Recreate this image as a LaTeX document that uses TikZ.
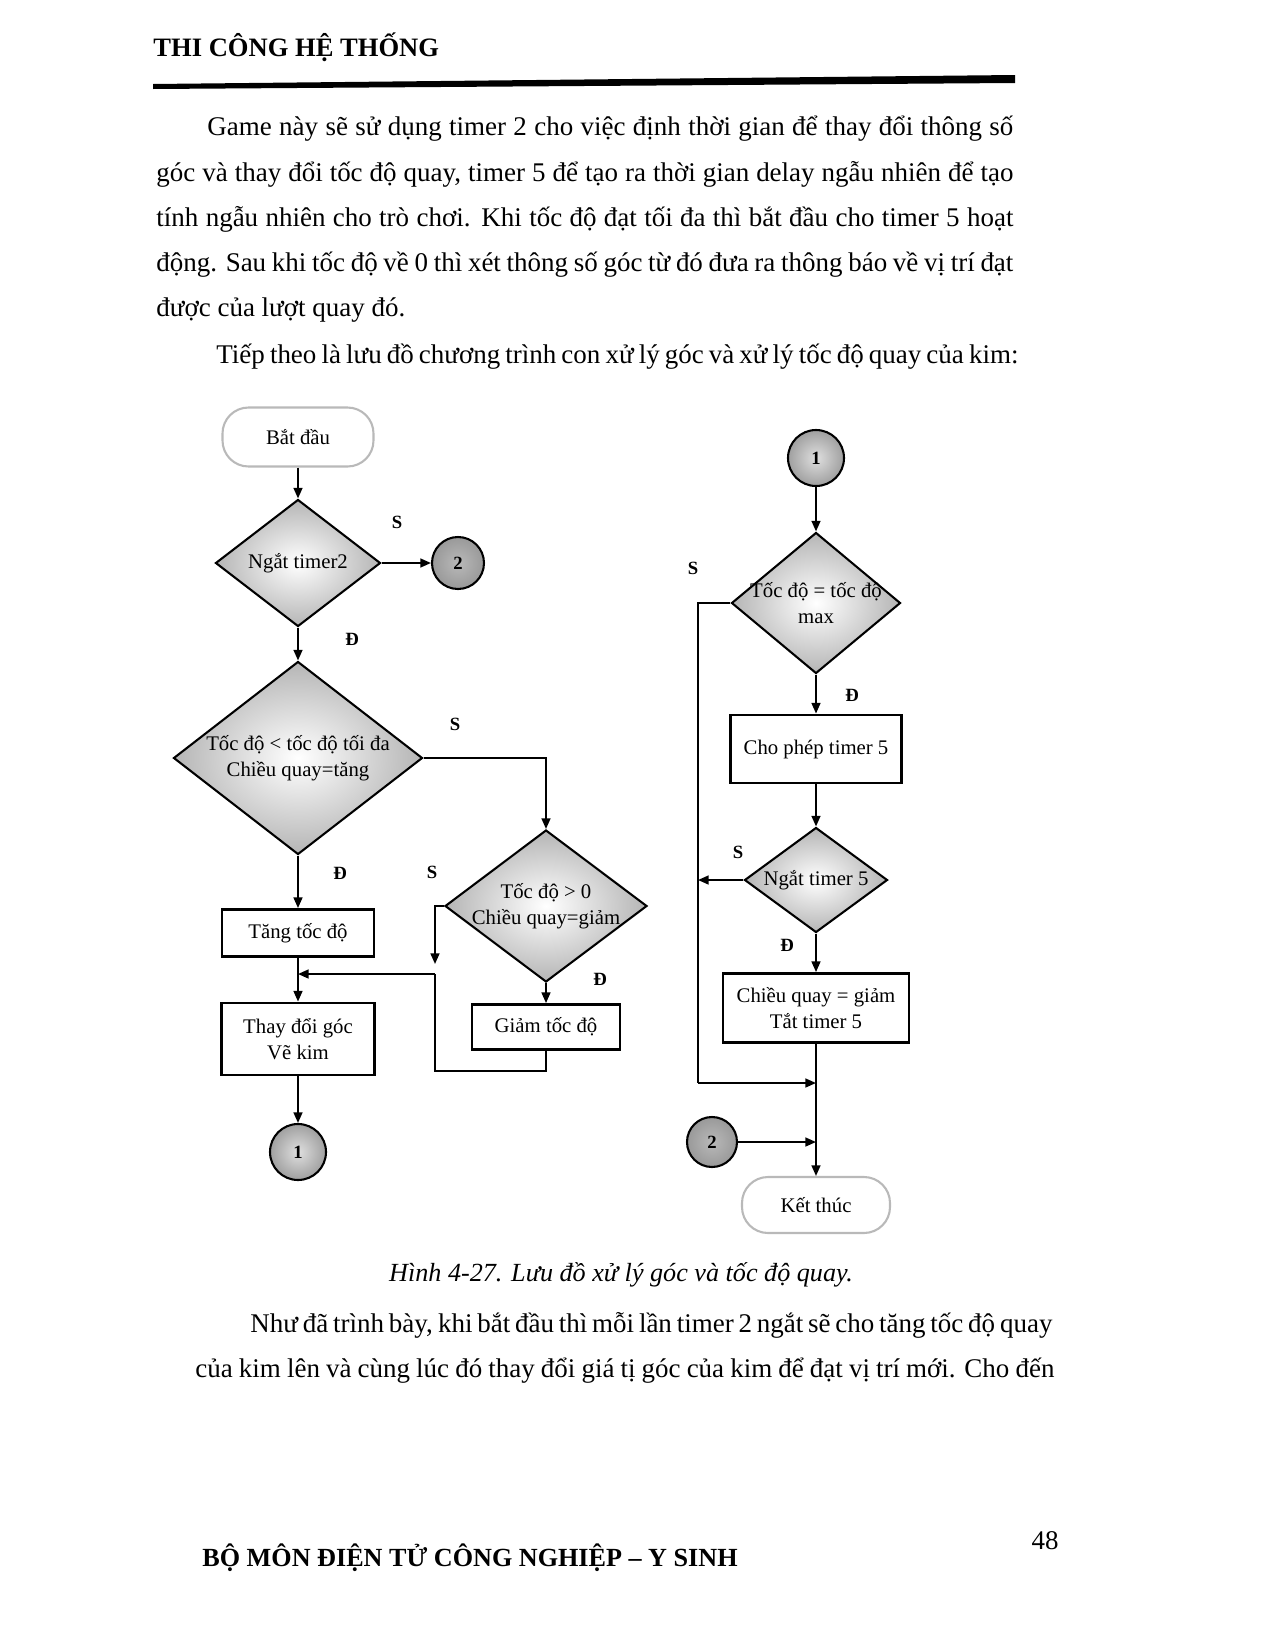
\documentclass[tikz,border=0pt]{standalone}
\usepackage{fontspec}
\setmainfont{Liberation Serif}
\usetikzlibrary{arrows.meta,shapes.geometric,calc}
\newlength\pxl
\setlength\pxl{0.16933mm}
\newcommand{\dl}[1]{\makebox[0pt]{#1}}
\newcommand{\jline}[2]{\makebox[#1\pxl][s]{#2}}

\tikzset{
  sz/.style 2 args={minimum width=#1*\pxl, minimum height=#2*\pxl},
  chartfont/.style={font=\fontsize{10}{12.5}\selectfont},
  terminal/.style={rectangle, draw=gray!55, line width=1pt, rounded corners=26*\pxl, chartfont},
  decision/.style={diamond, draw, line width=1pt, inner sep=0pt, shading=radial,
                   inner color=white, outer color=gray!58, align=center, chartfont},
  process/.style={rectangle, draw, line width=1.4pt, fill=white, align=center, chartfont},
  connector/.style={circle, draw, line width=1pt, inner sep=0pt, shading=radial,
                    inner color=gray!25, outer color=gray!75, font=\bfseries\small},
  connectordark/.style={connector, inner color=gray!55, outer color=gray!80},
  flow/.style={line width=0.9pt, -{Triangle[length=1.8mm,width=1.5mm]}},
  wire/.style={line width=0.9pt},
  yn/.style={font=\bfseries\fontsize{9}{10}\selectfont, inner sep=0pt},
  bodyline/.style={anchor=mid west, inner sep=0pt, font=\fontsize{13}{16}\selectfont},
}

\begin{document}
\begin{tikzpicture}[x=\pxl, y=-\pxl]
\useasboundingbox[fill=white] (0,0) rectangle (1275,1650);

\node[anchor=mid west, inner sep=0pt, font=\bfseries\fontsize{12.8}{15}\selectfont] (head) at (153,52) {THI CÔNG HỆ THỐNG};
\fill (153,84) -- (1015,75) -- (1015,83) -- (153,89) -- cycle;

\node[bodyline] (p1) at (207,131) {\jline{806}{Game này sẽ sử dụng timer 2 cho việc định thời gian để thay đổi thông số}};
\node[bodyline] (p2) at (156,177) {\jline{857}{góc và thay đổi tốc độ quay, timer 5 để tạo ra thời gian delay ngẫu nhiên để tạo}};
\node[bodyline] (p3) at (156,222) {\jline{857}{tính ngẫu nhiên cho trò chơi. Khi tốc độ đạt tối đa thì bắt đầu cho timer 5 hoạt}};
\node[bodyline] (p4) at (156,267) {\jline{857}{động. Sau khi tốc độ về 0 thì xét thông số góc từ đó đưa ra thông báo về vị trí đạt}};
\node[bodyline] (p5) at (156,312) {được của lượt quay đó.};
\node[bodyline] (p6) at (216,359) {\jline{802}{Tiếp theo là lưu đồ chương trình con xử lý góc và xử lý tốc độ quay của kim:}};

\node[terminal, sz={151}{59}] (start) at (298,437) {Bắt đầu};
\node[decision, sz={165}{127}] (tmr2) at (298,563) {\dl{Ngắt timer2}};
\node[connectordark, minimum size=52*\pxl] (jmp2) at (458,563) {2};
\node[decision, sz={249}{193}] (spdup) at (298,758) {\dl{Tốc độ < tốc độ tối đa}\\\dl{Chiều quay=tăng}};
\node[decision, sz={202}{152}] (spddn) at (546,906) {\dl{Tốc độ > 0}\\\dl{Chiều quay=giảm}};
\node[process, sz={152}{47}] (inc) at (298,933) {Tăng tốc độ};
\node[process, sz={153}{72}] (ang) at (298,1039) {Thay đổi góc\\Vẽ kim};
\node[process, sz={148}{45}] (dec) at (546,1027) {Giảm tốc độ};
\node[connector, minimum size=56*\pxl] (jmp1) at (298,1152) {1};

\node[connector, minimum size=56*\pxl] (ent1) at (816,458) {1};
\node[decision, sz={169}{141}] (ismax) at (816,603) {\dl{Tốc độ = tốc độ}\\\dl{max}};
\node[process, sz={171}{68}] (en5) at (816,749) {Cho phép timer 5};
\node[decision, sz={143}{105}] (tmr5) at (816,880) {\dl{Ngắt timer 5}};
\node[process, sz={186}{69}] (off5) at (816,1008) {Chiều quay = giảm\\Tắt timer 5};
\node[connectordark, minimum size=50*\pxl] (ent2) at (712,1142) {2};
\node[terminal, sz={148}{56}] (stop) at (816,1205) {Kết thúc};

\coordinate (jn) at (298,974);
\coordinate (lpx) at (435,974);
\coordinate (rlx) at (698,1083);
\coordinate (rm) at (816,1083);
\coordinate (rm2) at (816,1142);

\draw[flow] (start) -- (tmr2);
\draw[flow] (tmr2) -- (jmp2);
\draw[flow] (tmr2) -- (spdup);
\draw[flow] (spdup.east) -| (spddn.north);
\draw[flow] (spdup) -- (inc);
\draw[wire] (inc.south) -- (jn);
\draw[flow] (jn) -- (ang.north);
\draw[flow] (spddn.west) -- (spddn.west -| lpx) -- ($(lpx)+(0,-10)$);
\draw[wire] (dec.south) -- ++(0,20) -| (lpx);
\draw[flow] (lpx) -- (jn);
\draw[flow] (spddn) -- (dec);
\draw[flow] (ang) -- (jmp1);

\draw[flow] (ent1) -- (ismax);
\draw[flow] (ismax) -- (en5);
\draw[flow] (en5) -- (tmr5);
\draw[flow] (tmr5) -- (off5);
\draw[wire] (ismax.west) -| (rlx);
\draw[flow] (rlx) -- (rm);
\draw[flow] (tmr5.west) -- (tmr5.west -| rlx);
\draw[flow] (ent2) -- (rm2);
\draw[flow] (off5) -- (stop);

\node[yn] (s1) at (397,522) {S};
\node[yn] (d1) at (352,639) {Đ};
\node[yn] (s2) at (455,724) {S};
\node[yn] (d2) at (340,873) {Đ};
\node[yn] (s3) at (432,872) {S};
\node[yn] (d3) at (600,979) {Đ};
\node[yn] (s4) at (693,568) {S};
\node[yn] (d4) at (852,695) {Đ};
\node[yn] (s5) at (738,852) {S};
\node[yn] (d5) at (787,945) {Đ};

\node[font=\itshape\fontsize{12.6}{15}\selectfont, inner sep=0pt] (cap) at (621,1275) {Hình 4-27. Lưu đồ xử lý góc và tốc độ quay.};
\node[bodyline] (q1) at (250,1328) {\jline{802}{Như đã trình bày, khi bắt đầu thì mỗi lần timer 2 ngắt sẽ cho tăng tốc độ quay}};
\node[bodyline] (q2) at (195,1373) {\jline{859}{của kim lên và cùng lúc đó thay đổi giá tị góc của kim để đạt vị trí mới. Cho đến}};

\node[anchor=mid west, inner sep=0pt, font=\bfseries\fontsize{12.6}{15}\selectfont] (foot) at (202,1562) {BỘ MÔN ĐIỆN TỬ CÔNG NGHIỆP – Y SINH};
\node[font=\fontsize{13}{16}\selectfont, inner sep=0pt] (pg) at (1045,1541) {48};
\end{tikzpicture}
\end{document}
